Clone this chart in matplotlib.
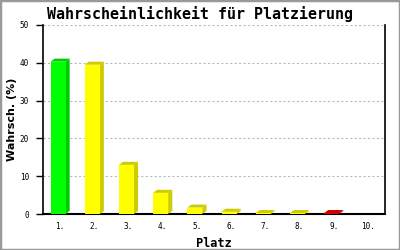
import matplotlib.pyplot as plt
import numpy as np
from matplotlib.patches import Polygon, Rectangle

# data
plaetze = ["1.", "2.", "3.", "4.", "5.", "6.", "7.", "8.", "9.", "10."]
wahrsch = [40.3, 39.5, 13.0, 5.6, 1.7, 0.6, 0.25, 0.25, 0.25, 0.0]
farben = ["#00ff00", "#ffff00", "#ffff00", "#ffff00", "#ffff00",
          "#ffff00", "#ffff00", "#ffff00", "#dd0000", "#ffff00"]
seiten = ["#00cc00", "#cccc00", "#cccc00", "#cccc00", "#cccc00",
          "#cccc00", "#cccc00", "#cccc00", "#cc0000", "#cccc00"]

fig = plt.figure(figsize=(4, 2.5), dpi=100)
fig.patches.append(Rectangle((0, 0), 1, 1, transform=fig.transFigure,
                             fill=False, edgecolor="#999999", linewidth=2.5))
ax = fig.add_axes([0.1075, 0.144, 0.855, 0.756])

x = np.arange(len(plaetze))
breite = 0.44
dx, dy = 0.12, 0.8  # 3d depth

# bars with pseudo 3d side/top
for xi, v, f, s in zip(x, wahrsch, farben, seiten):
    if v <= 0:
        continue
    l = xi - breite / 2 - dx / 2
    r = l + breite
    ax.add_patch(Polygon([(r, 0), (r + dx, dy), (r + dx, v + dy), (r, v)],
                         closed=True, facecolor=s, edgecolor="none", zorder=3))
    ax.add_patch(Polygon([(l, v), (l + dx, v + dy), (r + dx, v + dy), (r, v)],
                         closed=True, facecolor=s, edgecolor="none", zorder=3))
    ax.bar(l, v, width=breite, align="edge", color=f, edgecolor="none", zorder=4)

ax.set_xlim(-0.5, len(plaetze) - 0.5)
ax.set_ylim(0, 50)
ax.set_yticks([0, 10, 20, 30, 40, 50])
ax.set_xticks(x)
ax.set_xticklabels(plaetze, family="DejaVu Sans Mono", fontsize=5.5)
ax.tick_params(axis="x", length=0, pad=6)
ax.tick_params(axis="y", length=5, width=1, direction="out", pad=5,
               labelsize=5.5)
for t in ax.get_yticklabels():
    t.set_family("DejaVu Sans Mono")

ax.yaxis.grid(True, color="#bbbbbb", linestyle=(0, (2, 2)), linewidth=0.8)
ax.set_axisbelow(True)
ax.spines["top"].set_visible(False)
ax.spines["left"].set_linewidth(1.2)
ax.spines["right"].set_linewidth(1.2)
ax.spines["bottom"].set_linewidth(1.5)

ax.set_xlabel("Platz", family="DejaVu Sans Mono", fontweight="bold",
              fontsize=8.6, labelpad=4)
ax.set_ylabel("Wahrsch. (%)", family="DejaVu Sans", fontweight="bold",
              fontsize=8)
ax.yaxis.set_label_coords(-0.075, 0.5)
fig.text(0.5, 0.944, "Wahrscheinlichkeit für Platzierung",
         family="DejaVu Sans Mono", fontweight="bold", fontsize=10.8,
         ha="center", va="center")

fig.savefig("out.png", dpi=100)
